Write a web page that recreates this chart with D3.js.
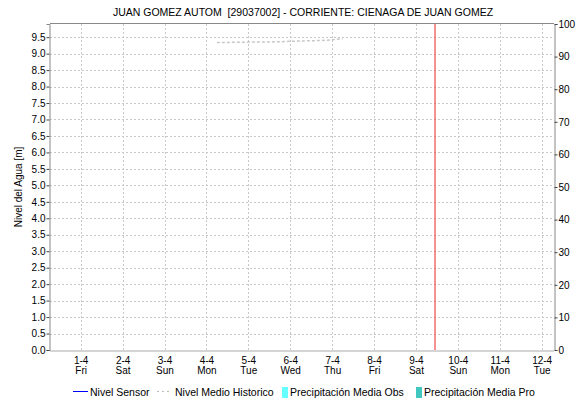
<!DOCTYPE html>
<html><head><meta charset="utf-8">
<script src="https://cdn.jsdelivr.net/npm/d3@7"></script>
<style>body{margin:0;background:#fff}svg{display:block}text{font-family:"Liberation Sans",Arial,sans-serif;white-space:pre}</style>
</head><body><svg id="c" width="580" height="403"></svg>
<script>
const title = "JUAN GOMEZ AUTOM  [29037002] - CORRIENTE: CIENAGA DE JUAN GOMEZ";
const yLabel = "Nivel del Agua [m]";
const dayLabels = ["1-4","2-4","3-4","4-4","5-4","6-4","7-4","8-4","9-4","10-4","11-4","12-4"];
const dayNames = ["Fri","Sat","Sun","Mon","Tue","Wed","Thu","Fri","Sat","Sun","Mon","Tue"];
const histTimes = ["2022-04-04T06:00","2022-04-04T12:00","2022-04-04T18:00","2022-04-05T00:00","2022-04-05T06:00","2022-04-05T12:00","2022-04-05T18:00","2022-04-06T00:00","2022-04-06T06:00","2022-04-06T12:00","2022-04-06T18:00","2022-04-07T00:00","2022-04-07T06:00"];
const histValues = [9.34,9.34,9.345,9.35,9.355,9.355,9.36,9.375,9.385,9.39,9.40,9.42,9.45];
const sensorTimes = [];
const sensorValues = [];
const nowTime = "2022-04-09T11:00";
const legendItems = ["Nivel Sensor","Nivel Medio Historico","Precipitación Media Obs","Precipitación Media Pro"];

const svg = d3.select("#c");
const m = {l:50, r:26, t:24, b:53};
const W = 580, H = 403;
const x = d3.scaleTime().domain([new Date("2022-03-31T06:25"), new Date("2022-04-12T07:05")]).range([m.l, W-m.r]);
const y = d3.scaleLinear().domain([0, 9.9]).range([H-m.b, m.t]);
const y2 = d3.scaleLinear().domain([0, 100]).range([H-m.b, m.t]);
const days = dayLabels.map((d,i)=> new Date(2022,3,i+1));

// grid
const gGrid = svg.append("g");
gGrid.selectAll("line.h").data(d3.range(0.5, 9.51, 0.5)).join("line")
  .attr("x1", m.l).attr("x2", W-m.r).attr("y1", d=>Math.round(y(d))+0.5).attr("y2", d=>Math.round(y(d))+0.5)
  .attr("stroke","#c8c8c8").attr("stroke-dasharray","2,2");
gGrid.selectAll("line.v").data(days).join("line")
  .attr("y1", m.t).attr("y2", H-m.b).attr("x1", d=>Math.round(x(d))+0.5).attr("x2", d=>Math.round(x(d))+0.5)
  .attr("stroke","#c8c8c8").attr("stroke-dasharray","2,2");

// frame top
svg.append("line").attr("x1",m.l).attr("x2",W-m.r).attr("y1",m.t-0.5).attr("y2",m.t-0.5).attr("stroke","#888");

// left axis
const ga = svg.append("g").attr("transform",`translate(${m.l-0.5},0)`)
  .call(d3.axisLeft(y).tickValues(d3.range(0, 9.51, 0.5)).tickFormat(d3.format(".1f")).tickSize(3));
ga.select(".domain").attr("stroke","#888");
ga.selectAll(".tick line").attr("stroke","#444");
ga.selectAll("text").attr("font-size","10px").attr("fill","#000").attr("x",-4);

// right axis
const gb = svg.append("g").attr("transform",`translate(${W-m.r+0.5},0)`)
  .call(d3.axisRight(y2).tickValues(d3.range(0,101,10)).tickSize(3));
gb.select(".domain").attr("stroke","#888");
gb.selectAll(".tick line").attr("stroke","#444");
gb.selectAll("text").attr("font-size","10px").attr("fill","#000").attr("x",4);

// bottom axis
const gx = svg.append("g").attr("transform",`translate(0,${H-m.b+0.5})`)
  .call(d3.axisBottom(x).tickValues(days).tickSize(0).tickFormat(""));
gx.select(".domain").attr("stroke","#555").attr("stroke-dasharray","1,1");
gx.selectAll(".tick").each(function(d,i){
  const t = d3.select(this);
  t.append("text").attr("y",13).attr("text-anchor","middle").attr("font-size","10px").attr("fill","#000").text(dayLabels[i]);
  t.append("text").attr("y",23).attr("text-anchor","middle").attr("font-size","10px").attr("fill","#000").text(dayNames[i]);
});

// historical line
const line = d3.line().x(d=>x(d[0])).y(d=>y(d[1]));
svg.append("path").datum(histTimes.map((t,i)=>[new Date(t),histValues[i]]))
  .attr("d", line).attr("fill","none").attr("stroke","#c8c8c8").attr("stroke-width",1.5).attr("stroke-dasharray","3,2");
svg.append("path").datum(sensorTimes.map((t,i)=>[new Date(t),sensorValues[i]]))
  .attr("d", line).attr("fill","none").attr("stroke","#0000ff");

// now line
const nx = Math.round(x(new Date(nowTime)));
svg.append("line").attr("x1",nx).attr("x2",nx).attr("y1",m.t).attr("y2",H-m.b)
  .attr("stroke","#f04848").attr("stroke-width",1.2);

// title
svg.append("text").attr("x",(m.l+W-m.r)/2+1).attr("y",16).attr("text-anchor","middle")
  .attr("font-size","10.5px").attr("fill","#000").text(title);

// y label
svg.append("text").attr("transform",`translate(22,${(m.t+H-m.b)/2}) rotate(-90)`).attr("text-anchor","middle")
  .attr("font-size","10px").attr("fill","#000").text(yLabel);

// legend
const ly = 392;
const lg = svg.append("g");
lg.append("line").attr("x1",73).attr("x2",88).attr("y1",ly-0.5).attr("y2",ly-0.5).attr("stroke","#0000ff");
lg.append("text").attr("x",90).attr("y",ly+4).attr("font-size","10.5px").text(legendItems[0]);
lg.append("line").attr("x1",157).attr("x2",172).attr("y1",ly-0.5).attr("y2",ly-0.5).attr("stroke","#bbb").attr("stroke-dasharray","2,3");
lg.append("text").attr("x",175).attr("y",ly+4).attr("font-size","10.5px").text(legendItems[1]);
lg.append("rect").attr("x",282).attr("y",ly-5).attr("width",6).attr("height",11).attr("fill","#66ffff");
lg.append("text").attr("x",290).attr("y",ly+4).attr("font-size","10.5px").text(legendItems[2]);
lg.append("rect").attr("x",416).attr("y",ly-5).attr("width",6).attr("height",11).attr("fill","#40c8c0");
lg.append("text").attr("x",424).attr("y",ly+4).attr("font-size","10.5px").text(legendItems[3]);
</script></body></html>
